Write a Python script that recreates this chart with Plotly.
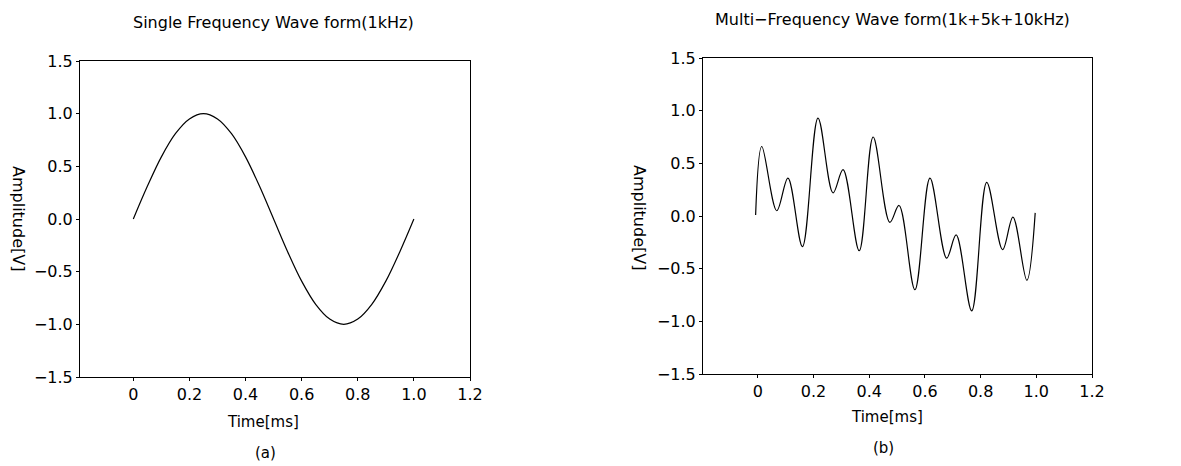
import plotly.graph_objects as go

# Panel (a): single-frequency 1 kHz wave
time_a = [0.0, 0.05, 0.10, 0.15, 0.20, 0.25, 0.30, 0.35, 0.40, 0.45, 0.50,
          0.55, 0.60, 0.65, 0.70, 0.75, 0.80, 0.85, 0.90, 0.95, 1.0]
amp_a = [0.0, 0.31, 0.59, 0.81, 0.95, 1.0, 0.95, 0.81, 0.59, 0.31, 0.0,
         -0.31, -0.59, -0.81, -0.95, -1.0, -0.95, -0.81, -0.59, -0.31, 0.0]

# Panel (b): multi-frequency wave, extremes
time_b = [-0.008, 0.014, 0.068, 0.108, 0.160, 0.216, 0.270, 0.306, 0.364, 0.414,
          0.474, 0.507, 0.564, 0.618, 0.678, 0.712, 0.768, 0.822, 0.879, 0.916,
          0.966, 0.996]
amp_b = [0.01, 0.66, 0.05, 0.36, -0.29, 0.93, 0.22, 0.44, -0.33, 0.75,
         -0.06, 0.10, -0.70, 0.36, -0.40, -0.18, -0.90, 0.32, -0.32, -0.01,
         -0.61, 0.03]

x_tickvals = [0, 0.2, 0.4, 0.6, 0.8, 1.0, 1.2]
x_ticktext = ["0", "0.2", "0.4", "0.6", "0.8", "1.0", "1.2"]
y_tickvals = [-1.5, -1.0, -0.5, 0.0, 0.5, 1.0, 1.5]
y_ticktext = ["\u22121.5", "\u22121.0", "\u22120.5", "0.0", "0.5", "1.0", "1.5"]

FONT = "DejaVu Sans"
W, H, OFF = 1181, 466, 8   # page body has an 8px margin


def px(xp):
    return (xp - OFF) / W


def py(yp):
    return 1 - (yp - OFF) / H


fig = go.Figure()
fig.add_trace(go.Scatter(x=time_a, y=amp_a, mode="lines",
                         line=dict(color="black", width=1.2, shape="spline"),
                         xaxis="x", yaxis="y", showlegend=False))
fig.add_trace(go.Scatter(x=time_b, y=amp_b, mode="lines",
                         line=dict(color="black", width=1.2, shape="spline", smoothing=1.0),
                         xaxis="x2", yaxis="y2", showlegend=False))

common_x = dict(range=[-0.19, 1.2], tickvals=x_tickvals, ticktext=x_ticktext,
                showgrid=False, zeroline=False, showline=True, linecolor="black",
                linewidth=1, mirror=True, ticks="outside", ticklen=3, automargin=False,
                tickcolor="black", tickfont=dict(family=FONT, size=16, color="black"))
common_y = dict(range=[-1.5, 1.5], tickvals=y_tickvals, ticktext=y_ticktext,
                showgrid=False, zeroline=False, showline=True, linecolor="black",
                linewidth=1, mirror=True, ticks="outside", ticklen=3, automargin=False,
                tickcolor="black", tickfont=dict(family=FONT, size=16, color="black"))

fig.update_layout(
    width=W, height=H,
    margin=dict(l=0, r=0, t=0, b=0, autoexpand=False),
    paper_bgcolor="white", plot_bgcolor="white",
    xaxis=dict(domain=[px(80), px(470)], anchor="y", **common_x),
    yaxis=dict(domain=[py(377), py(61)], anchor="x", **common_y),
    xaxis2=dict(domain=[px(703), px(1092)], anchor="y2", **{**common_x, "range": [-0.197, 1.2]}),
    yaxis2=dict(domain=[py(374), py(58)], anchor="x2", **common_y),
    font=dict(family=FONT, color="black"),
)

ann = []


def text(x, y, s, size=14, angle=0):
    ann.append(dict(x=px(x), y=py(y), xref="paper", yref="paper",
                    text=s, showarrow=False, textangle=angle,
                    font=dict(family=FONT, size=size, color="black"),
                    xanchor="center", yanchor="middle"))


text(273, 22, "Single Frequency Wave form(1kHz)", 16)
text(892, 20, "Multi\u2212Frequency Wave form(1k+5k+10kHz)", 16)
text(19, 218, "Amplitude[V]", 16, 90)
text(640, 217, "Amplitude[V]", 16, 90)
text(263, 422, "Time[ms]", 15)
text(887, 417, "Time[ms]", 15)
text(265, 453, "(a)", 15)
text(883, 448, "(b)", 15)
fig.update_layout(annotations=ann)

fig.write_html("out.html")
